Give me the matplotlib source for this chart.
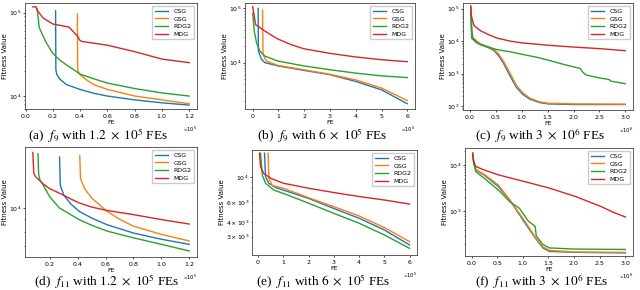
import matplotlib.pyplot as plt
from matplotlib.ticker import ScalarFormatter

plt.rcParams['mathtext.fontset'] = 'stix'

methods = ['CSG', 'GSG', 'RDG2', 'MDG']
colors = ['tab:blue', 'tab:orange', 'tab:green', 'tab:red']

captions = [r'(a)  $f_9$ with $1.2\ \times\ 10^5$ FEs',
            r'(b)  $f_9$ with $6\ \times\ 10^5$ FEs',
            r'(c)  $f_9$ with $3\ \times\ 10^6$ FEs',
            r'(d)  $f_{11}$ with $1.2\ \times\ 10^5$ FEs',
            r'(e)  $f_{11}$ with $6\ \times\ 10^5$ FEs',
            r'(f)  $f_{11}$ with $3\ \times\ 10^6$ FEs']
fe_units = [1e5, 1e5, 1e6, 1e5, 1e5, 1e6]

# --- (a) f9, 1.2e5 FEs ---
a_csg_x = [0.22, 0.222, 0.23, 0.24, 0.25, 0.3, 0.4, 0.5, 0.6, 0.8, 1.0, 1.2]
a_csg_y = [1.05e5, 2.06e4, 1.8e4, 1.7e4, 1.6e4, 1.37e4, 1.2e4, 1.08e4, 1.0e4, 9.0e3, 8.3e3, 7.8e3]
a_gsg_x = [0.38, 0.382, 0.39, 0.4, 0.45, 0.5, 0.6, 0.8, 1.0, 1.2]
a_gsg_y = [9.6e4, 2.06e4, 1.9e4, 1.8e4, 1.55e4, 1.37e4, 1.2e4, 1.0e4, 9.0e3, 8.1e3]
a_rdg2_x = [0.085, 0.1, 0.12, 0.15, 0.2, 0.25, 0.3, 0.4, 0.5, 0.6, 0.8, 1.0, 1.2]
a_rdg2_y = [1.1e5, 6.6e4, 5.6e4, 4.4e4, 3.24e4, 2.7e4, 2.36e4, 1.83e4, 1.61e4, 1.43e4, 1.23e4, 1.09e4, 1.0e4]
a_mdg_x = [0.053, 0.077, 0.084, 0.113, 0.125, 0.198, 0.318, 0.354, 0.386, 0.395, 0.414, 0.6, 0.8, 1.0, 1.2]
a_mdg_y = [1.17e5, 1.17e5, 1.07e5, 9.3e4, 8.7e4, 7.3e4, 6.7e4, 5.8e4, 5.1e4, 4.7e4, 4.5e4, 4.06e4, 3.4e4, 2.77e4, 2.51e4]

# --- (b) f9, 6e5 FEs ---
b_csg_x = [0.21, 0.22, 0.34, 0.47, 0.97, 1.98, 2.99, 4.0, 5.0, 6.0]
b_csg_y = [1.0e5, 1.63e4, 1.15e4, 1.0e4, 8.7e3, 7.2e3, 6.0e3, 4.5e3, 3.15e3, 1.75e3]
b_gsg_x = [0.38, 0.4, 0.53, 0.97, 1.98, 2.99, 4.0, 5.0, 6.0]
b_gsg_y = [9.3e4, 1.42e4, 1.07e4, 8.9e3, 7.4e3, 6.1e3, 4.8e3, 3.4e3, 2.0e3]
b_rdg2_x = [0.0, 0.06, 0.15, 0.28, 0.47, 0.97, 1.98, 2.99, 4.0, 5.0, 6.0]
b_rdg2_y = [8.1e4, 3.8e4, 2.3e4, 1.63e4, 1.32e4, 1.07e4, 8.7e3, 7.4e3, 6.4e3, 5.7e3, 5.3e3]
b_mdg_x = [0.0, 0.11, 0.34, 0.59, 0.97, 1.48, 1.98, 2.99, 4.0, 5.0, 6.0]
b_mdg_y = [1.07e5, 5.0e4, 4.2e4, 3.5e4, 2.73e4, 2.15e4, 1.8e4, 1.48e4, 1.27e4, 1.13e4, 1.04e4]

# --- (c) f9, 3e6 FEs ---
c_csg_x = [0.013, 0.03, 0.11, 0.2, 0.36, 0.46, 0.55, 0.65, 0.78, 0.9, 1.02, 1.16, 1.35, 1.51, 2.0, 3.0]
c_csg_y = [1.2e5, 1.25e4, 9.4e3, 7.8e3, 6.3e3, 5.2e3, 3.6e3, 2.05e3, 810, 370, 230, 162, 128, 117, 112, 112]
c_gsg_x = [0.02, 0.045, 0.2, 0.36, 0.46, 0.55, 0.65, 0.78, 0.9, 1.02, 1.16, 1.35, 1.51, 2.0, 3.0]
c_gsg_y = [1.0e5, 1.3e4, 8.3e3, 6.6e3, 5.6e3, 4.1e3, 2.35e3, 980, 425, 257, 174, 135, 123, 117, 115]
c_rdg2_x = [0.013, 0.03, 0.057, 0.14, 0.27, 0.52, 0.78, 1.02, 1.29, 1.51, 1.8, 2.0, 2.13, 2.17, 2.24, 2.5, 2.69, 2.72, 3.0]
c_rdg2_y = [6.3e4, 2.2e4, 1.25e4, 8.7e3, 7.3e3, 5.5e3, 4.7e3, 3.9e3, 3.2e3, 2.6e3, 1.95e3, 1.62e3, 1.45e3, 1.15e3, 910, 740, 660, 590, 490]
c_mdg_x = [0.013, 0.025, 0.045, 0.076, 0.14, 0.2, 0.36, 0.52, 0.78, 1.02, 1.51, 2.0, 2.5, 3.0]
c_mdg_y = [1.2e5, 6.3e4, 4.4e4, 3.1e4, 2.5e4, 2.1e4, 1.58e4, 1.25e4, 1.0e4, 8.8e3, 7.5e3, 6.6e3, 5.9e3, 5.1e3]

# --- (d) f11, 1.2e5 FEs ---
d_csg_x = [0.27, 0.275, 0.3, 0.35, 0.41, 0.5, 0.61, 0.8, 1.0, 1.2]
d_csg_y = [1.62e4, 1.24e4, 1.13e4, 1.04e4, 9.7e3, 9.1e3, 8.55e3, 7.9e3, 7.45e3, 7.1e3]
d_gsg_x = [0.415, 0.42, 0.45, 0.5, 0.61, 0.7, 0.8, 1.0, 1.2]
d_gsg_y = [1.64e4, 1.32e4, 1.2e4, 1.1e4, 9.7e3, 9.0e3, 8.43e3, 7.8e3, 7.33e3]
d_rdg2_x = [0.115, 0.12, 0.13, 0.15, 0.2, 0.27, 0.35, 0.41, 0.5, 0.61, 0.8, 1.0, 1.2]
d_rdg2_y = [1.67e4, 1.37e4, 1.3e4, 1.25e4, 1.11e4, 1.0e4, 9.4e3, 8.97e3, 8.5e3, 8.05e3, 7.55e3, 7.1e3, 6.67e3]
d_mdg_x = [0.078, 0.085, 0.1, 0.15, 0.2, 0.27, 0.35, 0.41, 0.5, 0.6, 0.8, 1.0, 1.2]
d_mdg_y = [1.69e4, 1.39e4, 1.34e4, 1.26e4, 1.2e4, 1.15e4, 1.09e4, 1.05e4, 1.01e4, 9.8e3, 9.4e3, 8.97e3, 8.6e3]

# --- (e) f11, 6e5 FEs ---
e_csg_x = [0.25, 0.29, 0.42, 0.7, 1, 2, 3, 4, 5, 6]
e_csg_y = [1.63e4, 1.01e4, 8.85e3, 8.1e3, 7.7e3, 6.5e3, 5.3e3, 4.35e3, 3.43e3, 2.53e3]
e_gsg_x = [0.39, 0.42, 0.55, 0.8, 1, 2, 3, 4, 5, 6]
e_gsg_y = [1.63e4, 9.8e3, 8.5e3, 8.2e3, 8.0e3, 6.6e3, 5.5e3, 4.56e3, 3.6e3, 2.7e3]
e_rdg2_x = [0.09, 0.16, 0.29, 0.62, 1, 2, 3, 4, 5, 6]
e_rdg2_y = [1.63e4, 1.05e4, 8.85e3, 7.7e3, 7.2e3, 5.9e3, 4.8e3, 3.93e3, 3.1e3, 2.36e3]
e_mdg_x = [0.05, 0.09, 0.22, 0.49, 1, 2, 3, 4, 5, 6]
e_mdg_y = [1.63e4, 1.24e4, 1.08e4, 9.8e3, 8.85e3, 8.0e3, 7.33e3, 6.76e3, 6.3e3, 5.8e3]

# --- (f) f11, 3e6 FEs ---
f_csg_x = [0.02, 0.04, 0.08, 0.24, 0.52, 0.74, 1.02, 1.24, 1.39, 1.52, 2.02, 3.0]
f_csg_y = [1.78e4, 1.18e4, 7.8e3, 6.1e3, 3.43e3, 1.78e3, 610, 270, 164, 138, 132, 128]
f_gsg_x = [0.02, 0.04, 0.08, 0.24, 0.52, 0.74, 1.02, 1.24, 1.39, 1.52, 2.02, 3.0]
f_gsg_y = [1.78e4, 1.2e4, 8.0e3, 6.3e3, 3.7e3, 1.8e3, 660, 280, 173, 145, 134, 132]
f_rdg2_x = [0.02, 0.04, 0.08, 0.24, 0.52, 0.74, 0.93, 1.02, 1.11, 1.24, 1.26, 1.39, 1.52, 2.0, 3.0]
f_rdg2_y = [1.6e4, 1.1e4, 7.2e3, 5.2e3, 2.9e3, 1.63e3, 1.17e3, 850, 610, 480, 300, 194, 164, 155, 152]
f_mdg_x = [0.02, 0.04, 0.08, 0.24, 0.52, 1.02, 1.52, 2.02, 2.52, 2.8, 3.0]
f_mdg_y = [1.78e4, 1.18e4, 9.2e3, 7.8e3, 6.1e3, 4.4e3, 3.16e3, 2.1e3, 1.28e3, 920, 760]

panels = [
    [(a_csg_x, a_csg_y), (a_gsg_x, a_gsg_y), (a_rdg2_x, a_rdg2_y), (a_mdg_x, a_mdg_y)],
    [(b_csg_x, b_csg_y), (b_gsg_x, b_gsg_y), (b_rdg2_x, b_rdg2_y), (b_mdg_x, b_mdg_y)],
    [(c_csg_x, c_csg_y), (c_gsg_x, c_gsg_y), (c_rdg2_x, c_rdg2_y), (c_mdg_x, c_mdg_y)],
    [(d_csg_x, d_csg_y), (d_gsg_x, d_gsg_y), (d_rdg2_x, d_rdg2_y), (d_mdg_x, d_mdg_y)],
    [(e_csg_x, e_csg_y), (e_gsg_x, e_gsg_y), (e_rdg2_x, e_rdg2_y), (e_mdg_x, e_mdg_y)],
    [(f_csg_x, f_csg_y), (f_gsg_x, f_gsg_y), (f_rdg2_x, f_rdg2_y), (f_mdg_x, f_mdg_y)],
]

W, H = 640, 290
# axes boxes in pixels: left, top, right, bottom
boxes = [(25, 3, 197, 109), (245, 3, 415, 109), (463, 3, 633, 110),
         (25, 147, 197, 257), (252, 150, 417, 255), (465, 148, 633, 256)]
ylims = [(7e3, 1.3e5), (1.4e3, 1.25e5), (76, 1.5e5),
         (6.3e3, 1.78e4), (2.06e3, 1.74e4), (110, 2.3e4)]
cap_pos = [(98, 136), (322, 136), (540, 136), (107, 282), (323, 282), (542, 282)]

fig = plt.figure(figsize=(6.4, 2.9), dpi=100)

for i, series in enumerate(panels):
    l, t, r, b = boxes[i]
    ax = fig.add_axes([l / W, 1 - b / H, (r - l) / W, (b - t) / H])
    unit = fe_units[i]
    for (xs, ys), name, c in zip(series, methods, colors):
        ax.plot([v * unit for v in xs], ys, color=c, lw=1.0, label=name)
    ax.set_yscale('log')
    ax.set_ylim(*ylims[i])
    fmt = ScalarFormatter(useMathText=True)
    fmt.set_powerlimits((0, 0))
    ax.xaxis.set_major_formatter(fmt)
    ax.xaxis.get_offset_text().set_fontsize(3.8)
    ax.tick_params(which='both', labelsize=4.5, pad=0.8)
    ax.tick_params(which='major', length=1.6, width=0.5)
    ax.tick_params(which='minor', length=1.0, width=0.4)
    ax.set_xlabel('FE', fontsize=4.5, labelpad=0)
    ax.set_ylabel('Fitness Value', fontsize=5, labelpad=1)
    for s in ax.spines.values():
        s.set_linewidth(0.6)
        s.set_color('#444444')
    ax.legend(loc='upper right', fontsize=4.5, labelspacing=0.35, handlelength=2.2,
              borderpad=0.4, framealpha=1, fancybox=False, edgecolor='#cccccc')
    fig.text(cap_pos[i][0] / W, 1 - cap_pos[i][1] / H, captions[i], ha='center', va='center',
             fontsize=9.5, family='Liberation Serif')

fig.savefig('out.png', dpi=100)
